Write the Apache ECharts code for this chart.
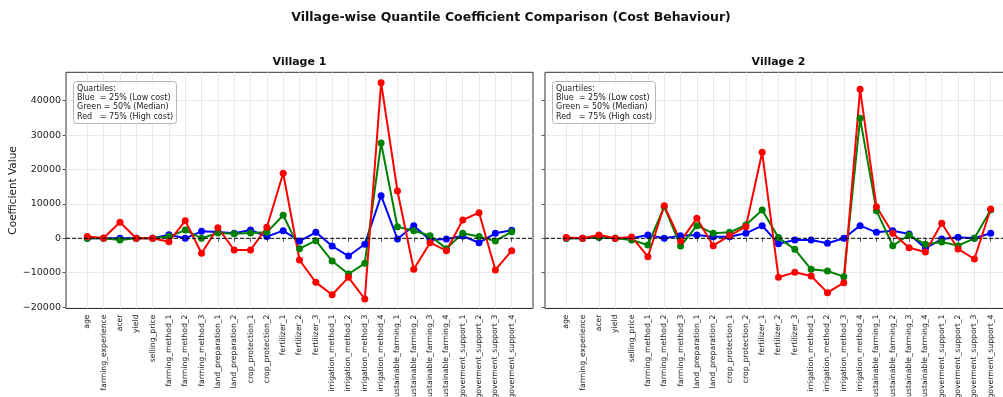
<!DOCTYPE html>
<html>
<head>
<meta charset="utf-8">
<script src="https://cdn.jsdelivr.net/npm/echarts@6/dist/echarts.min.js"></script>
<style>
  html, body { margin: 0; padding: 0; background: #fff; }
  #chart { width: 1003px; height: 397px; }
</style>
</head>
<body>
<div id="chart"></div>
<script>
// Regression features (x-axis categories)
const categories = [
  'age', 'farming_experience', 'acer', 'yield', 'selling_price',
  'farming_method_1', 'farming_method_2', 'farming_method_3',
  'land_preparation_1', 'land_preparation_2',
  'crop_protection_1', 'crop_protection_2',
  'fertilizer_1', 'fertilizer_2', 'fertilizer_3',
  'irrigation_method_1', 'irrigation_method_2', 'irrigation_method_3', 'irrigation_method_4',
  'sustainable_farming_1', 'sustainable_farming_2', 'sustainable_farming_3', 'sustainable_farming_4',
  'goverment_support_1', 'goverment_support_2', 'goverment_support_3', 'goverment_support_4'
];

// Village 1 quantile coefficients
const v1Q25 = [0, 0, 0, 0, 0, 1050, 0, 2030, 1830, 1450, 2410, 500, 2220, -800, 1740, -2240, -5150, -1740, 12380, -200, 3660, -500, -200, 670, -1280, 1450, 2320];
const v1Q50 = [0, 0, -500, 0, 0, 500, 2400, 0, 1550, 1360, 1550, 1740, 6690, -3000, -700, -6600, -10380, -7270, 27700, 3370, 2210, 760, -3000, 1450, 500, -800, 1930];
const v1Q75 = [500, 100, 4650, 0, 0, -990, 5100, -4360, 3080, -3400, -3400, 3200, 18900, -6300, -12800, -16400, -11340, -17640, 45230, 13750, -9010, -1280, -3600, 5320, 7450, -9200, -3600];

// Village 2 quantile coefficients
const v2Q25 = [0, 0, 300, 0, 0, 960, 0, 780, 960, 480, 480, 1450, 3680, -1570, -500, -500, -1450, 0, 3680, 1740, 2210, 1260, -2900, -200, 300, 0, 1450];
const v2Q50 = [0, 0, 300, 0, -500, -1940, 9200, -2240, 3680, 1450, 1740, 3870, 8230, 200, -3200, -9010, -9500, -11150, 34880, 8030, -2130, 960, -1740, -1070, -2130, 0, 8230];
const v2Q75 = [200, 0, 960, 0, 400, -5340, 9480, -800, 5810, -2130, 780, 3380, 25000, -11340, -9890, -10960, -15800, -12900, 43300, 9190, 1450, -2720, -3980, 4360, -3100, -6010, 8520];

// Shared y-axis tick values
const yTicks = [-20000, -10000, 0, 10000, 20000, 30000, 40000];

const FONT = 'DejaVu Sans';
const Y_MIN = -20400, Y_MAX = 48250;
const GRID_COLOR = '#e4e4e4';
const SPINE = '#333';

const chart = echarts.init(document.getElementById('chart'), null, { renderer: 'canvas' });

const plotTop = 72.3, plotHeight = 236.2;
const panels = [
  { frameLeft: 66, innerLeft: 87.3 },
  { frameLeft: 545, innerLeft: 566.3 }
];

const grid = [];
const xAxis = [];
const yAxis = [];
panels.forEach((p, i) => {
  grid.push({ left: p.frameLeft, top: plotTop, width: 467, height: plotHeight, outerBoundsMode: 'none',
              show: true, borderColor: SPINE, borderWidth: 1, backgroundColor: 'transparent' });
  grid.push({ left: p.innerLeft, top: plotTop, width: 424.4, height: plotHeight, outerBoundsMode: 'none' });

  xAxis.push({ gridIndex: 2 * i, type: 'value', min: 0, max: 1, show: false });
  xAxis.push({
    gridIndex: 2 * i + 1, type: 'category', data: categories, boundaryGap: false,
    axisLine: { show: false },
    axisTick: { show: true, length: 3.5, lineStyle: { color: SPINE, width: 0.8 } },
    axisLabel: { rotate: 90, interval: 0, fontSize: 7.7, margin: 6, color: '#222', fontFamily: FONT },
    splitLine: { show: true, lineStyle: { color: GRID_COLOR, width: 0.8 } }
  });

  yAxis.push({
    gridIndex: 2 * i, type: 'value', min: Y_MIN, max: Y_MAX,
    axisLine: { show: false },
    axisTick: { show: true, length: 3.5, customValues: yTicks, lineStyle: { color: SPINE, width: 0.8 } },
    axisLabel: {
      show: i === 0, customValues: yTicks, fontSize: 9.5, margin: 5, color: '#222', fontFamily: FONT,
      formatter: v => (v % 10000 === 0 ? String(v).replace('-', '\u2212') : '')
    },
    splitLine: { show: true, lineStyle: { color: GRID_COLOR, width: 0.8 } },
    name: i === 0 ? 'Coefficient Value' : '',
    nameLocation: 'middle', nameGap: 44,
    nameTextStyle: { fontSize: 10.5, color: '#222', fontFamily: FONT }
  });
  yAxis.push({ gridIndex: 2 * i + 1, type: 'value', min: Y_MIN, max: Y_MAX, show: false, splitLine: { show: false } });
});

function quantileSeries(data, color, axisIdx) {
  return {
    type: 'line', data: data, xAxisIndex: axisIdx, yAxisIndex: axisIdx,
    symbol: 'circle', symbolSize: 7, showAllSymbol: true,
    lineStyle: { color: color, width: 2 },
    itemStyle: { color: color },
    emphasis: { disabled: true }, silent: true, z: 3
  };
}
function zeroLine(axisIdx) {
  return {
    type: 'line', data: [[0, 0], [1, 0]], xAxisIndex: axisIdx, yAxisIndex: axisIdx,
    symbol: 'none', lineStyle: { color: '#000', width: 1, type: [4, 2] },
    emphasis: { disabled: true }, silent: true, z: 4
  };
}

const legendText = 'Quartiles:\nBlue  = 25% (Low cost)\nGreen = 50% (Median)\nRed   = 75% (High cost)';
function legendBox(left) {
  return {
    text: legendText, left: left, top: 81,
    padding: [3, 4], borderColor: '#b5b5b5', borderWidth: 1, borderRadius: 3,
    backgroundColor: 'rgba(255,255,255,0.8)',
    textStyle: { fontSize: 8, fontWeight: 'normal', lineHeight: 9.3, color: '#222', fontFamily: FONT }
  };
}

const option = {
  animation: false,
  backgroundColor: '#fff',
  title: [legendBox(73), legendBox(552)],
  grid: grid,
  xAxis: xAxis,
  yAxis: yAxis,
  series: [
    zeroLine(0),
    quantileSeries(v1Q25, 'blue', 1),
    quantileSeries(v1Q50, 'green', 1),
    quantileSeries(v1Q75, 'red', 1),
    zeroLine(2),
    quantileSeries(v2Q25, 'blue', 3),
    quantileSeries(v2Q50, 'green', 3),
    quantileSeries(v2Q75, 'red', 3)
  ],
  graphic: [
    { type: 'text', x: 511, y: 18, silent: true,
      style: { text: 'Village-wise Quantile Coefficient Comparison (Cost Behaviour)', fill: '#111',
               font: 'bold 12.5px "DejaVu Sans"', textAlign: 'center', textVerticalAlign: 'middle', align: 'center', verticalAlign: 'middle' } },
    { type: 'text', x: 299.5, y: 62, silent: true,
      style: { text: 'Village 1', fill: '#111', font: 'bold 11px "DejaVu Sans"',
               textAlign: 'center', textVerticalAlign: 'middle', align: 'center', verticalAlign: 'middle' } },
    { type: 'text', x: 778.5, y: 62, silent: true,
      style: { text: 'Village 2', fill: '#111', font: 'bold 11px "DejaVu Sans"',
               textAlign: 'center', textVerticalAlign: 'middle', align: 'center', verticalAlign: 'middle' } }
  ]
};

chart.setOption(option);
</script>
</body>
</html>
